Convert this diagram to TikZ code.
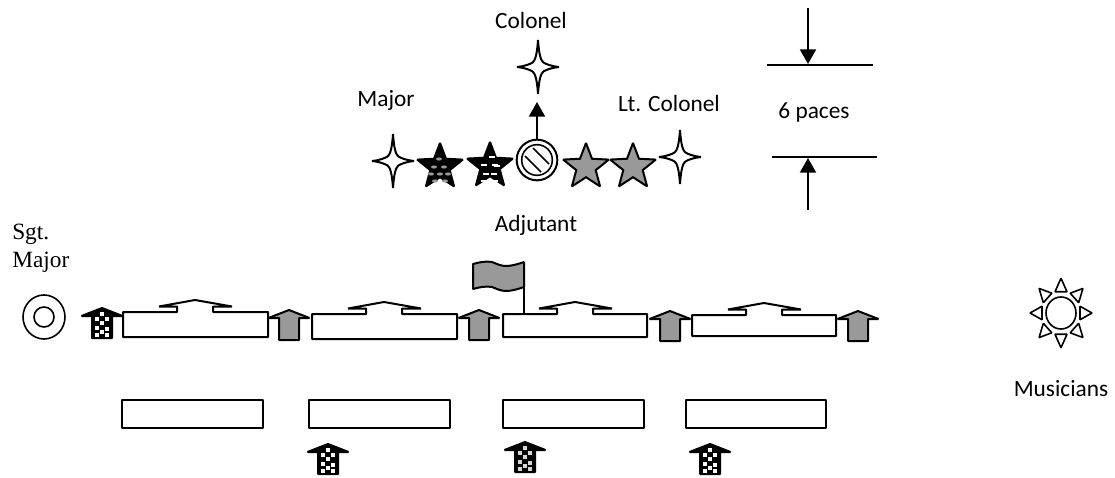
\documentclass[tikz,border=0pt]{standalone}
\usepackage{fontspec}
\setmainfont{Carlito}
\newfontfamily\sgtfont{Liberation Serif}
\usetikzlibrary{calc}
\usetikzlibrary{arrows.meta}
\usetikzlibrary{shapes.geometric}

\definecolor{armygray}{HTML}{999999}

\tikzset{
  line/.style={line width=1.5pt, line join=bevel},
  txt/.style={inner sep=0pt, font=\fontsize{17.5}{21}\selectfont},
  rankstar/.style={line, line join=miter, miter limit=2.5, draw=black, star, star points=5, star point ratio=2.35, inner sep=0pt, minimum size=36pt},
  tip/.style={-{Triangle[width=12pt,length=11pt]}},
  pics/fourstar/.style={code={
    \draw[line, fill=white] (0,-27) .. controls (1,-12) and (3,-6) .. (5.5,-4.5)
      .. controls (8,-3) and (12,-1) .. (21,0)
      .. controls (12,1) and (8,3) .. (5.5,4.5)
      .. controls (3,6) and (1,12) .. (0,27)
      .. controls (-1,12) and (-3,6) .. (-5.5,4.5)
      .. controls (-8,3) and (-12,1) .. (-21,0)
      .. controls (-12,-1) and (-8,-3) .. (-5.5,-4.5)
      .. controls (-3,-6) and (-1,-12) .. cycle;
  }},
  % block arrow, origin at its tip
  pics/soldier/.style={code={
    \draw[line, fill=#1] (0,0) -- (20.5,8) -- (10,8) -- (10,30) -- (-10,30) -- (-10,8) -- (-20.5,8) -- cycle;
  }},
  pics/darksoldier/.style={code={
    \draw[line, fill=black] (0,0) -- (20.5,8) -- (10,8) -- (10,30) -- (-10,30) -- (-10,8) -- (-20.5,8) -- cycle;
    \foreach \x/\y in {0/6, -5/11, 5/11, 0/15, -5/20, 5/21, 0/24, -5/27, 5/27}
      \fill[#1] (\x-1.7,\y-2.3) rectangle (\x+1.7,\y+2.3);
  }},
  % company front, origin at its upper left corner
  pics/company/.style 2 args={code={
    \draw[line, fill=white] (0,0) -- (54,0) -- (54,-5.5) -- (36,-5.5) -- (72,-12)
      -- (109,-5.5) -- (90,-5.5) -- (90,0) -- (#1,0) -- (#1,#2) -- (0,#2) -- cycle;
  }},
  x=0.75pt, y=-0.75pt
}

\begin{document}
\begin{tikzpicture}
    \useasboundingbox (0,0) rectangle (1115,478);

    % Colonel and the field officers
    \pic at (538,67) {fourstar};
    \pic at (393,161) {fourstar};
    \pic at (680,157) {fourstar};
    \node[rankstar, fill=black] (capt1) at (440,167) {};
    \node[rankstar, fill=black] (capt2) at (490,166) {};
    \node[rankstar, fill=armygray] (capt3) at (586,167) {};
    \node[rankstar, fill=armygray] (capt4) at (633,167) {};

    % Patterns on the two dark stars
    \foreach \x/\y in {-1/-8, -6/0, 4/0, -9/7, 0/7, 8/7, -5/14, 5/14}
      \fill[armygray] (440+\x,167+\y) ellipse (3 and 1.6);
    \foreach \x/\y in {2/-9, -6/-1, 5/-1, 7/0, -4/8, 4/8, -6/15, 5/15}
      \fill[white] (490+\x-3,166+\y-1) rectangle (490+\x+3,166+\y+1);

    % Adjutant
    \node[line, draw=black, fill=white, circle, inner sep=0pt, minimum size=30.5pt] (adjutant) at (537,160) {};
    \node[draw=black, line width=1.2pt, circle, inner sep=0pt, minimum size=23pt] (adjutantin) at (537,160) {};
    \draw[line, line width=1.2pt] (525,156) -- (541,172);
    \draw[line, line width=1.2pt] (533,148) -- (549,164);
    \coordinate (colonelfoot) at (537,102);
    \draw[line, tip] (adjutant.north) -- (colonelfoot);

    % Six paces
    \coordinate (pacetop) at (808,8);
    \coordinate (pacebot) at (808,210);
    \coordinate (paceA) at (808,64);
    \coordinate (paceB) at (808,158);
    \draw[line, line width=1.2pt] (767,65) -- (873,65);
    \draw[line, line width=1.2pt] (772,157) -- (877,157);
    \draw[line, tip] (pacetop) -- (paceA);
    \draw[line, tip] (pacebot) -- (paceB);

    % Labels
    \node[txt] (colonel) at (531,20) {Colonel};
    \node[txt] (major) at (386,100) {Major};
    \node[txt] (ltcolonel) at (669,103) {Lt. Colonel};
    \node[txt] (paces) at (814,113) {6 paces};
    \node[txt] (adjlabel) at (536,225) {Adjutant};
    \node[txt] (musicians) at (1061,389) {Musicians};
    \node[txt, anchor=north west, align=left, font=\sgtfont\fontsize{17.5}{20.5}\selectfont] (sgtmajor) at (12,224) {Sgt.\\Major};

    % Sgt. Major
    \draw[line, line width=1.2pt] (44,317) ellipse (21 and 22);
    \draw[line, line width=1.2pt] (44,317) circle (10);

    % Front rank
    \pic at (123,312) {company={145}{25}};
    \pic at (312,314) {company={145}{25}};
    \pic at (503,314) {company={144}{23}};
    \pic at (692,315) {company={144}{21}};

    % Colours
    \draw[line, fill=armygray] (473,264) .. controls (480,262) and (486,261) .. (492,262)
      .. controls (497,264) and (501,266) .. (506,266)
      .. controls (512,266) and (518,264) .. (524,262) -- (524,287)
      .. controls (518,289) and (512,291) .. (506,291)
      .. controls (501,291) and (497,289) .. (492,287)
      .. controls (486,286) and (480,287) .. (473,289) -- cycle;
    \draw[line] (524,262) -- (524,314);

    % Sergeants between the companies
    \pic at (102,308) {darksoldier=white};
    \pic at (289,310) {soldier=armygray};
    \pic at (479,310) {soldier=armygray};
    \pic at (670,311) {soldier=armygray};
    \pic at (858,311) {soldier=armygray};

    % Rear rank
    \foreach \xa/\xb in {122/263, 309/450, 503/644, 686/826}
      \draw[line] (\xa,399.5) rectangle (\xb,428);
    \pic at (328,444) {darksoldier=white};
    \pic at (525,442) {darksoldier=armygray!40};
    \pic at (710,444) {darksoldier=white};

    % Musicians
    \begin{scope}[shift={(1061,313)}, yscale=1.12]
      \draw[line, line width=1.2pt] (0,0) ellipse (15 and 14.3);
      \foreach \a in {0,45,...,315}
        \draw[line, line width=1.2pt, rotate=\a] (19,-6) -- (31,0) -- (19,6) -- cycle;
    \end{scope}
\end{tikzpicture}
\end{document}
